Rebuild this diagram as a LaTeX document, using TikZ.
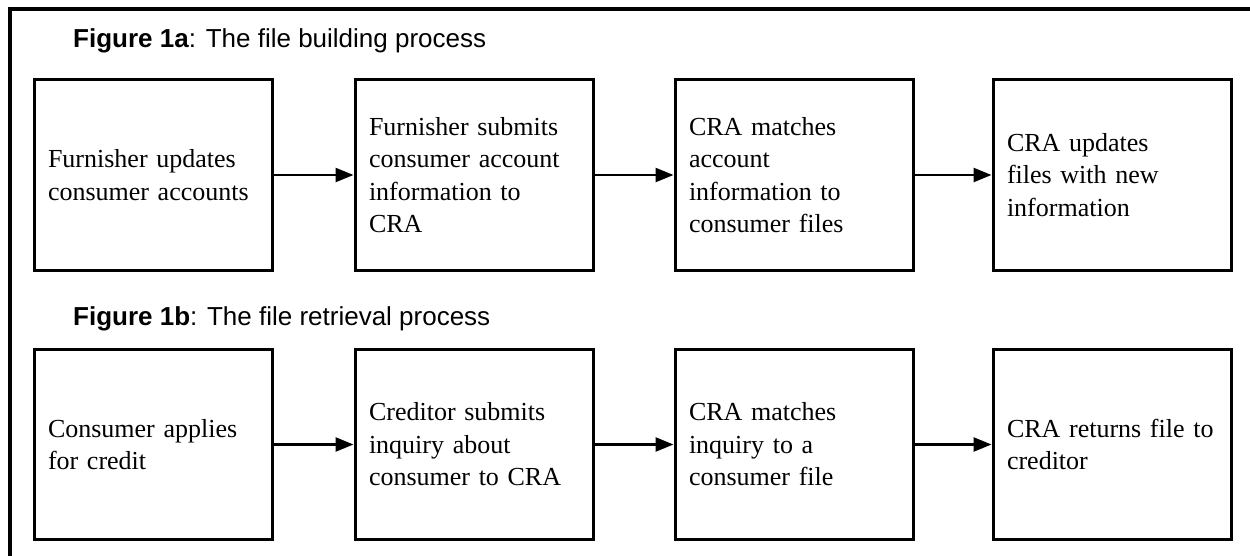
\documentclass[tikz,border=0pt]{standalone}
\usepackage{fontspec}
\setmainfont{Liberation Serif}
\newfontfamily\titlefont{Liberation Sans}
\usetikzlibrary{arrows.meta}
\tikzset{
  stepbox/.style={draw, line width=3pt, minimum height=190pt, text width=210pt, inner xsep=14pt, inner ysep=0pt, align=left, font=\fontsize{26pt}{32.5pt}\selectfont},
  flow/.style={line width=2.5pt, -{Triangle[length=18pt,width=14pt]}},
  figtitle/.style={anchor=base west, inner sep=0pt, font=\titlefont\fontsize{26pt}{30pt}\selectfont}
}
\begin{document}
\begin{tikzpicture}[x=1pt,y=-1pt]
\useasboundingbox (0,0) rectangle (1250,556);
\draw[line width=3.5pt] (1270,9) -- (10,9) -- (10,580);
\node[figtitle] (t1) at (73,48) {\textbf{Figure 1a}: The file building process};
\node[stepbox] (a1) at (153,175) {Furnisher updates\\consumer accounts};
\node[stepbox] (a2) at (474,175) {Furnisher submits\\consumer account\\information to\\CRA};
\node[stepbox] (a3) at (794,175) {CRA matches\\account\\information to\\consumer files};
\node[stepbox] (a4) at (1112,175) {CRA updates\\files with new\\information};
\draw[flow] (a1) -- (a2);
\draw[flow] (a2) -- (a3);
\draw[flow] (a3) -- (a4);
\node[figtitle] (t2) at (73,325) {\textbf{Figure 1b}: The file retrieval process};
\node[stepbox] (b1) at (153,444.5) {Consumer applies\\for credit};
\node[stepbox] (b2) at (474,444.5) {Creditor submits\\inquiry about\\consumer to CRA};
\node[stepbox] (b3) at (794,444.5) {CRA matches\\inquiry to a\\consumer file};
\node[stepbox] (b4) at (1112,444.5) {CRA returns file to\\creditor};
\draw[flow] (b1) -- (b2);
\draw[flow] (b2) -- (b3);
\draw[flow] (b3) -- (b4);
\end{tikzpicture}
\end{document}
